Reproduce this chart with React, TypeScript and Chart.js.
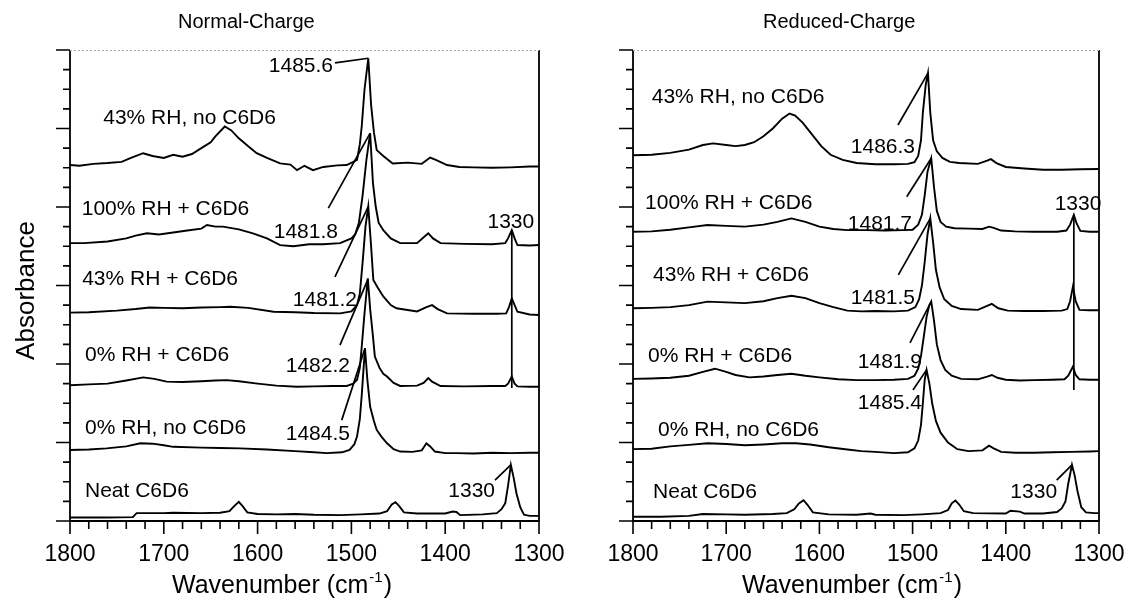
import React, { useEffect, useRef } from 'react';
import { Chart, registerables } from 'chart.js';

Chart.register(...registerables);

type Pt = [number, number];

const FONT = '"Liberation Sans", Arial, Helvetica, sans-serif';

// ---------- axis / labels ----------
const wavenumberMin = 1300;
const wavenumberMax = 1800;
const wavenumberMajorStep = 100;
const wavenumberMinorStep = 20;
const absorbanceMin = 0;
const absorbanceMax = 12;
const absorbanceMajorStep = 2;
const absorbanceMinorStep = 0.5;

const panelTitles = ['Normal-Charge', 'Reduced-Charge'];
const traceNames = ['Neat C6D6', '0% RH, no C6D6', '0% RH + C6D6', '43% RH + C6D6', '100% RH + C6D6', '43% RH, no C6D6'];

// ---------- Normal-Charge spectra (wavenumber, offset absorbance) ----------
const normalNeat: Pt[] = [
  [1800, 0.09], [1760, 0.09], [1733, 0.10], [1729, 0.20], [1700, 0.20], [1690, 0.21], [1660, 0.20], [1640, 0.21],
  [1630, 0.25], [1625, 0.38], [1620, 0.49], [1616, 0.38], [1611, 0.22], [1600, 0.18], [1580, 0.17], [1560, 0.18],
  [1540, 0.16], [1512, 0.15], [1490, 0.17], [1470, 0.19], [1462, 0.25], [1457, 0.42], [1453, 0.48], [1449, 0.38],
  [1444, 0.22], [1430, 0.19], [1400, 0.19], [1392, 0.24], [1388, 0.23], [1384, 0.15], [1360, 0.17], [1345, 0.20],
  [1340, 0.30], [1336, 0.45], [1333, 0.90], [1330, 1.43], [1327, 1.10], [1324, 0.70], [1320, 0.35], [1316, 0.16],
  [1310, 0.13], [1300, 0.13],
];
const normal0RH: Pt[] = [
  [1800, 1.81], [1780, 1.82], [1761, 1.85], [1740, 1.90], [1725, 1.98], [1712, 1.97], [1700, 1.93], [1690, 1.89],
  [1660, 1.87], [1640, 1.86], [1619, 1.85], [1590, 1.82], [1560, 1.78], [1540, 1.75], [1526, 1.73], [1510, 1.75],
  [1502, 1.81], [1497, 1.95], [1494, 2.15], [1491, 2.60], [1489, 3.20], [1487, 3.90], [1485.5, 4.40], [1483, 3.60],
  [1480, 2.91], [1476, 2.55], [1473, 2.32], [1468, 2.15], [1462, 1.98], [1455, 1.83], [1448, 1.77], [1435, 1.76],
  [1425, 1.80], [1420, 1.98], [1416, 1.90], [1411, 1.77], [1400, 1.73], [1388, 1.73], [1370, 1.72], [1350, 1.74],
  [1330, 1.73], [1310, 1.74], [1300, 1.74],
];
const normal0RHC6D6: Pt[] = [
  [1800, 3.46], [1780, 3.48], [1760, 3.50], [1740, 3.58], [1722, 3.66], [1710, 3.62], [1697, 3.55], [1680, 3.54],
  [1660, 3.56], [1645, 3.58], [1633, 3.59], [1620, 3.56], [1600, 3.50], [1580, 3.45], [1558, 3.42], [1540, 3.43],
  [1520, 3.44], [1505, 3.44], [1498, 3.50], [1494, 3.60], [1491, 3.90], [1489, 4.44], [1486, 5.30], [1482.5, 6.18],
  [1480, 5.40], [1477, 4.70], [1475, 4.19], [1470, 3.90], [1466, 3.75], [1462, 3.68], [1455, 3.52], [1448, 3.44],
  [1430, 3.45], [1423, 3.52], [1418, 3.64], [1414, 3.55], [1405, 3.44], [1380, 3.43], [1350, 3.44], [1336, 3.44],
  [1333, 3.50], [1329, 3.68], [1326, 3.50], [1323, 3.43], [1310, 3.42], [1300, 3.42],
];
const normal43RHC6D6: Pt[] = [
  [1800, 5.31], [1780, 5.32], [1750, 5.36], [1730, 5.40], [1715, 5.44], [1700, 5.43], [1680, 5.42], [1660, 5.44],
  [1640, 5.45], [1629, 5.46], [1610, 5.43], [1583, 5.33], [1560, 5.32], [1540, 5.30], [1512, 5.29], [1500, 5.34],
  [1494, 5.50], [1491, 5.80], [1488, 6.60], [1485, 7.50], [1482, 8.01], [1479, 7.00], [1476.6, 6.14], [1472, 5.95],
  [1466, 5.72], [1458, 5.50], [1452, 5.42], [1430, 5.34], [1420, 5.45], [1414, 5.50], [1408, 5.40], [1398, 5.29],
  [1370, 5.28], [1345, 5.28], [1335, 5.29], [1332, 5.45], [1329, 5.67], [1326, 5.50], [1323, 5.33], [1310, 5.26],
  [1300, 5.25],
];
const normal100RHC6D6: Pt[] = [
  [1800, 7.08], [1785, 7.08], [1760, 7.12], [1740, 7.20], [1730, 7.27], [1718, 7.33], [1705, 7.30], [1690, 7.35],
  [1675, 7.40], [1660, 7.45], [1654, 7.54], [1645, 7.50], [1637, 7.50], [1620, 7.43], [1605, 7.33], [1590, 7.20],
  [1576, 7.03], [1562, 7.00], [1545, 7.05], [1530, 7.05], [1512, 7.08], [1500, 7.20], [1496, 7.30], [1492, 7.60],
  [1488, 8.30], [1484, 9.20], [1480, 9.88], [1477, 8.60], [1474, 8.00], [1471, 7.60], [1466, 7.41], [1458, 7.20],
  [1448, 7.08], [1430, 7.08], [1422, 7.25], [1418, 7.33], [1413, 7.20], [1405, 7.08], [1380, 7.06], [1350, 7.05],
  [1336, 7.08], [1333, 7.20], [1329, 7.41], [1326, 7.20], [1323, 7.03], [1310, 7.02], [1300, 7.03],
];
const normal43RH: Pt[] = [
  [1800, 9.07], [1790, 9.05], [1775, 9.10], [1760, 9.12], [1745, 9.15], [1735, 9.25], [1722, 9.37], [1712, 9.30],
  [1700, 9.25], [1690, 9.33], [1680, 9.28], [1670, 9.35], [1660, 9.50], [1650, 9.65], [1645, 9.80], [1635, 10.05],
  [1628, 9.95], [1620, 9.75], [1610, 9.55], [1601, 9.37], [1590, 9.25], [1576, 9.11], [1565, 9.08], [1558, 8.94],
  [1550, 9.05], [1541, 8.94], [1530, 9.02], [1515, 9.06], [1505, 9.07], [1498, 9.15], [1494, 9.20], [1491, 9.60],
  [1489, 10.05], [1486, 11.00], [1482, 11.79], [1479, 10.60], [1476, 9.90], [1473, 9.45], [1466, 9.30], [1456, 9.11],
  [1440, 9.13], [1425, 9.10], [1416, 9.26], [1410, 9.20], [1398, 9.07], [1385, 9.02], [1370, 9.01], [1350, 9.00],
  [1330, 9.01], [1310, 9.03], [1300, 9.03],
];

// ---------- Reduced-Charge spectra ----------
const reducedNeat: Pt[] = [
  [1800, 0.11], [1770, 0.11], [1740, 0.13], [1725, 0.18], [1700, 0.17], [1680, 0.16], [1650, 0.18], [1635, 0.20],
  [1627, 0.30], [1622, 0.45], [1617, 0.53], [1613, 0.42], [1607, 0.22], [1590, 0.17], [1560, 0.16], [1545, 0.19],
  [1540, 0.16], [1510, 0.15], [1490, 0.17], [1470, 0.20], [1462, 0.28], [1458, 0.45], [1454, 0.52], [1450, 0.42],
  [1445, 0.25], [1435, 0.20], [1400, 0.19], [1395, 0.26], [1385, 0.24], [1380, 0.19], [1360, 0.19], [1345, 0.23],
  [1340, 0.32], [1336, 0.50], [1333, 0.95], [1329, 1.43], [1326, 1.15], [1323, 0.75], [1319, 0.35], [1314, 0.22],
  [1305, 0.20], [1300, 0.20],
];
const reduced0RH: Pt[] = [
  [1800, 1.83], [1780, 1.84], [1760, 1.90], [1740, 1.94], [1720, 1.98], [1700, 1.96], [1680, 1.93], [1660, 1.95],
  [1640, 1.98], [1625, 1.98], [1610, 1.95], [1590, 1.88], [1570, 1.82], [1555, 1.78], [1540, 1.76], [1520, 1.73],
  [1505, 1.75], [1498, 1.85], [1494, 2.05], [1491, 2.45], [1489, 3.00], [1487, 3.60], [1485, 3.85], [1482, 3.50],
  [1479, 3.00], [1475, 2.55], [1470, 2.25], [1462, 2.00], [1452, 1.83], [1440, 1.78], [1425, 1.80], [1418, 1.92],
  [1413, 1.85], [1405, 1.76], [1390, 1.74], [1370, 1.74], [1350, 1.75], [1330, 1.76], [1310, 1.77], [1300, 1.78],
];
const reduced0RHC6D6: Pt[] = [
  [1800, 3.62], [1780, 3.63], [1760, 3.65], [1740, 3.70], [1725, 3.80], [1712, 3.88], [1700, 3.80], [1690, 3.72],
  [1675, 3.66], [1660, 3.68], [1645, 3.72], [1630, 3.75], [1615, 3.70], [1600, 3.66], [1580, 3.61], [1560, 3.59],
  [1540, 3.59], [1520, 3.60], [1505, 3.62], [1498, 3.70], [1494, 3.88], [1491, 4.20], [1488, 4.70], [1485, 5.20],
  [1482, 5.50], [1480, 5.59], [1477, 5.10], [1474, 4.50], [1470, 4.10], [1465, 3.85], [1458, 3.70], [1448, 3.62],
  [1430, 3.61], [1420, 3.68], [1415, 3.72], [1409, 3.65], [1400, 3.60], [1385, 3.58], [1370, 3.59], [1350, 3.60],
  [1337, 3.61], [1333, 3.70], [1328, 3.93], [1325, 3.72], [1321, 3.61], [1310, 3.60], [1300, 3.60],
];
const reduced43RHC6D6: Pt[] = [
  [1800, 5.42], [1780, 5.43], [1760, 5.45], [1740, 5.50], [1720, 5.59], [1700, 5.57], [1680, 5.55], [1660, 5.60],
  [1645, 5.68], [1630, 5.74], [1615, 5.68], [1600, 5.55], [1585, 5.45], [1570, 5.36], [1555, 5.34], [1540, 5.35],
  [1520, 5.34], [1505, 5.36], [1497, 5.45], [1493, 5.65], [1490, 6.00], [1487, 6.60], [1484, 7.30], [1481, 7.71],
  [1478, 7.10], [1475, 6.40], [1471, 5.95], [1466, 5.65], [1458, 5.48], [1448, 5.40], [1430, 5.38], [1420, 5.48],
  [1415, 5.53], [1408, 5.42], [1398, 5.36], [1380, 5.35], [1360, 5.35], [1340, 5.36], [1334, 5.40], [1331, 5.60],
  [1328, 5.97], [1325, 5.60], [1321, 5.38], [1310, 5.37], [1300, 5.37],
];
const reduced100RHC6D6: Pt[] = [
  [1800, 7.37], [1780, 7.38], [1760, 7.42], [1740, 7.48], [1720, 7.54], [1700, 7.52], [1680, 7.50], [1660, 7.55],
  [1645, 7.62], [1630, 7.71], [1615, 7.62], [1600, 7.50], [1585, 7.44], [1570, 7.41], [1550, 7.41], [1530, 7.40],
  [1510, 7.41], [1500, 7.42], [1494, 7.55], [1490, 7.80], [1487, 8.30], [1484, 8.90], [1480, 9.24], [1477, 8.50],
  [1474, 7.90], [1470, 7.62], [1464, 7.50], [1455, 7.46], [1440, 7.45], [1425, 7.44], [1418, 7.50], [1413, 7.47],
  [1405, 7.40], [1390, 7.38], [1370, 7.37], [1345, 7.37], [1335, 7.40], [1331, 7.55], [1327, 7.80], [1324, 7.58],
  [1320, 7.39], [1310, 7.37], [1300, 7.37],
];
const reduced43RH: Pt[] = [
  [1800, 9.32], [1780, 9.33], [1760, 9.38], [1740, 9.46], [1725, 9.58], [1714, 9.62], [1700, 9.58], [1690, 9.55],
  [1680, 9.58], [1670, 9.65], [1660, 9.80], [1650, 10.00], [1640, 10.25], [1632, 10.38], [1626, 10.33], [1618, 10.15],
  [1608, 9.85], [1598, 9.55], [1588, 9.33], [1575, 9.20], [1560, 9.12], [1540, 9.09], [1520, 9.09], [1505, 9.10],
  [1498, 9.14], [1494, 9.30], [1491, 9.70], [1489, 10.40], [1486, 11.10], [1483.5, 11.41], [1481, 10.40], [1478, 9.70],
  [1474, 9.42], [1468, 9.25], [1460, 9.15], [1450, 9.12], [1430, 9.10], [1420, 9.18], [1416, 9.22], [1410, 9.12],
  [1400, 9.02], [1380, 8.98], [1360, 8.95], [1340, 8.95], [1320, 8.96], [1300, 8.97],
];

const normalTraces = [normalNeat, normal0RH, normal0RHC6D6, normal43RHC6D6, normal100RHC6D6, normal43RH];
const reducedTraces = [reducedNeat, reduced0RH, reduced0RHC6D6, reduced43RHC6D6, reduced100RHC6D6, reduced43RH];

// trace name anchors (wavenumber of text start, absorbance of text baseline)
const normalTraceLabelAt: Pt[] = [[1784, 0.61], [1784, 2.22], [1784, 4.08], [1787, 6.01], [1787.5, 7.80], [1764.6, 10.11]];
const reducedTraceLabelAt: Pt[] = [[1778.5, 0.59], [1773.2, 2.17], [1783.9, 4.05], [1778.5, 6.11], [1787.1, 7.95], [1779.9, 10.65]];

// peak annotations
const normalPeakLabels = ['1330', '1484.5', '1482.2', '1481.2', '1481.8', '1485.6', '1330'];
const normalPeakAlign = ['right', 'right', 'right', 'right', 'right', 'right', 'center'];
const normalPeakTextAt: Pt[] = [[1346.9, 0.61], [1501.5, 2.06], [1501.5, 3.80], [1494, 5.48], [1514.3, 7.21], [1519.6, 11.44], [1330, 7.47]];
const normalLeaderFrom: Pt[] = [[1346.9, 1.04], [1510.3, 2.57], [1512.2, 4.48], [1517.5, 6.22], [1524.6, 7.97], [1517.5, 11.67], [1329, 7.41]];
const normalLeaderTo: Pt[] = [[1330, 1.43], [1485.5, 4.40], [1482.5, 6.15], [1482, 8.01], [1480, 9.88], [1482, 11.79], [1329, 3.39]];

const reducedPeakLabels = ['1330', '1485.4', '1481.9', '1481.5', '1481.7', '1486.3', '1330'];
const reducedPeakAlign = ['right', 'right', 'right', 'right', 'right', 'right', 'center'];
const reducedPeakTextAt: Pt[] = [[1345, 0.59], [1489.9, 2.85], [1489.9, 3.90], [1497.4, 5.53], [1500.6, 7.41], [1497.4, 9.38], [1322.5, 7.92]];
const reducedLeaderFrom: Pt[] = [[1345.4, 1.04], [1499.6, 3.34], [1502.8, 4.54], [1515.3, 6.27], [1506.3, 8.26], [1515.7, 10.09], [1327, 7.80]];
const reducedLeaderTo: Pt[] = [[1329, 1.43], [1485, 3.85], [1480, 5.59], [1481, 7.71], [1480, 9.24], [1483.5, 11.41], [1327, 3.34]];

interface Panel {
  title: string;
  traces: Pt[][];
  traceLabelAt: Pt[];
  peakLabels: string[];
  peakAlign: string[];
  peakTextAt: Pt[];
  leaderFrom: Pt[];
  leaderTo: Pt[];
  padLeft: number;
  padRight: number;
  titleX: number;
  xTitleX: number;
  showYTitle: boolean;
}

const panels: Panel[] = [
  {
    title: panelTitles[0], traces: normalTraces, traceLabelAt: normalTraceLabelAt,
    peakLabels: normalPeakLabels, peakAlign: normalPeakAlign, peakTextAt: normalPeakTextAt,
    leaderFrom: normalLeaderFrom, leaderTo: normalLeaderTo,
    padLeft: 70, padRight: 28, titleX: 178, xTitleX: 172, showYTitle: true,
  },
  {
    title: panelTitles[1], traces: reducedTraces, traceLabelAt: reducedTraceLabelAt,
    peakLabels: reducedPeakLabels, peakAlign: reducedPeakAlign, peakTextAt: reducedPeakTextAt,
    leaderFrom: reducedLeaderFrom, leaderTo: reducedLeaderTo,
    padLeft: 66, padRight: 35, titleX: 196, xTitleX: 175, showYTitle: false,
  },
];

const CANVAS_W = 567;
const CANVAS_H = 601;

function makeFramePlugin(p: Panel) {
  return {
    id: 'frame',
    afterDraw(chart: any) {
      const { ctx, chartArea: a } = chart;
      const xs = chart.scales.x;
      const ys = chart.scales.y;
      ctx.save();
      // frame
      ctx.strokeStyle = '#000';
      ctx.lineWidth = 1.8;
      ctx.setLineDash([]);
      ctx.beginPath();
      ctx.moveTo(a.left, a.top);
      ctx.lineTo(a.left, a.bottom);
      ctx.lineTo(a.right, a.bottom);
      ctx.lineTo(a.right, a.top);
      ctx.stroke();
      ctx.strokeStyle = '#aaa';
      ctx.lineWidth = 1;
      ctx.setLineDash([2, 2]);
      ctx.beginPath();
      ctx.moveTo(a.left, a.top + 0.5);
      ctx.lineTo(a.right, a.top + 0.5);
      ctx.stroke();
      ctx.setLineDash([]);
      ctx.strokeStyle = '#000';
      ctx.lineWidth = 1.6;
      // y ticks (outward)
      ctx.beginPath();
      const nY = Math.round((absorbanceMax - absorbanceMin) / absorbanceMinorStep);
      for (let i = 0; i <= nY; i++) {
        const v = absorbanceMin + i * absorbanceMinorStep;
        const py = ys.getPixelForValue(v);
        const major = Math.abs(v / absorbanceMajorStep - Math.round(v / absorbanceMajorStep)) < 1e-6;
        const len = major ? 14 : 7;
        ctx.moveTo(a.left - len, py);
        ctx.lineTo(a.left, py);
      }
      // x ticks (outward)
      const nX = Math.round((wavenumberMax - wavenumberMin) / wavenumberMinorStep);
      for (let i = 0; i <= nX; i++) {
        const v = wavenumberMin + i * wavenumberMinorStep;
        const px = xs.getPixelForValue(v);
        const major = v % wavenumberMajorStep === 0;
        const len = major ? 13 : 8;
        ctx.moveTo(px, a.bottom);
        ctx.lineTo(px, a.bottom + len);
      }
      ctx.stroke();

      ctx.fillStyle = '#000';
      // panel title
      ctx.font = `20px ${FONT}`;
      ctx.textAlign = 'left';
      ctx.textBaseline = 'alphabetic';
      ctx.fillText(p.title, p.titleX, 28);

      // trace names
      ctx.font = `21px ${FONT}`;
      traceNames.forEach((name, i) => {
        const [wx, wy] = p.traceLabelAt[i];
        ctx.textAlign = 'left';
        ctx.fillText(name, xs.getPixelForValue(wx), ys.getPixelForValue(wy));
      });

      // peak labels
      p.peakLabels.forEach((lab, i) => {
        const [wx, wy] = p.peakTextAt[i];
        ctx.textAlign = p.peakAlign[i] as CanvasTextAlign;
        ctx.fillText(lab, xs.getPixelForValue(wx), ys.getPixelForValue(wy));
      });

      // x title with superscript
      const bx = p.xTitleX;
      const by = 593;
      ctx.textAlign = 'left';
      ctx.font = `25px ${FONT}`;
      const main = 'Wavenumber (cm';
      ctx.fillText(main, bx, by);
      const w1 = ctx.measureText(main).width;
      ctx.font = `15px ${FONT}`;
      ctx.fillText('-1', bx + w1 + 1, by - 11);
      const w2 = ctx.measureText('-1').width;
      ctx.font = `25px ${FONT}`;
      ctx.fillText(')', bx + w1 + w2 + 2, by);

      if (p.showYTitle) {
        ctx.save();
        ctx.translate(27, (a.top + a.bottom) / 2 + 5);
        ctx.rotate(-Math.PI / 2);
        ctx.font = `26px ${FONT}`;
        ctx.textAlign = 'center';
        ctx.textBaseline = 'middle';
        ctx.fillText('Absorbance', 0, 0);
        ctx.restore();
      }
      ctx.restore();
    },
  };
}

function SpectraPanel({ panel, left }: { panel: Panel; left: number }) {
  const ref = useRef<HTMLCanvasElement | null>(null);
  useEffect(() => {
    if (!ref.current) return;
    const traceSets = panel.traces.map((tr, i) => ({
      label: traceNames[i],
      data: tr.map(([x, y]) => ({ x, y })),
      borderColor: '#000',
      borderWidth: 1.9,
      pointRadius: 0,
      tension: 0,
      fill: false,
    }));
    const leaderSets = panel.leaderFrom.map((f, i) => ({
      label: 'leader ' + panel.peakLabels[i],
      data: [{ x: f[0], y: f[1] }, { x: panel.leaderTo[i][0], y: panel.leaderTo[i][1] }],
      borderColor: '#000',
      borderWidth: 1.7,
      pointRadius: 0,
      tension: 0,
      fill: false,
    }));
    const chart = new Chart(ref.current, {
      type: 'line',
      data: { datasets: [...traceSets, ...leaderSets] as any },
      options: {
        animation: false,
        responsive: false,
        devicePixelRatio: 1,
        layout: { padding: { left: panel.padLeft, right: panel.padRight, top: 50, bottom: 0 } },
        plugins: { legend: { display: false }, tooltip: { enabled: false }, title: { display: false } },
        scales: {
          x: {
            type: 'linear',
            min: wavenumberMin,
            max: wavenumberMax,
            reverse: true,
            grid: { display: false, drawTicks: true, tickLength: 20 },
            border: { display: false },
            ticks: {
              stepSize: wavenumberMajorStep,
              autoSkip: false,
              maxRotation: 0,
              minRotation: 0,
              padding: 0,
              color: '#000',
              font: { family: FONT, size: 23 },
              callback: (v: any) => String(v),
            },
            afterFit: (s: any) => { s.height = 80; s.paddingLeft = 0; s.paddingRight = 0; },
          },
          y: {
            type: 'linear',
            min: absorbanceMin,
            max: absorbanceMax,
            display: false,
          },
        },
      } as any,
      plugins: [makeFramePlugin(panel)],
    });
    return () => chart.destroy();
  }, [panel]);
  return (
    <canvas
      ref={ref}
      width={CANVAS_W}
      height={CANVAS_H}
      style={{ position: 'absolute', left, top: 0, width: CANVAS_W, height: CANVAS_H, display: 'block' }}
    />
  );
}

export default function App() {
  return (
    <div style={{ position: 'absolute', left: 0, top: 0, width: 1134, height: 601, background: '#fff', overflow: 'hidden' }}>
      <SpectraPanel panel={panels[0]} left={0} />
      <SpectraPanel panel={panels[1]} left={567} />
    </div>
  );
}
